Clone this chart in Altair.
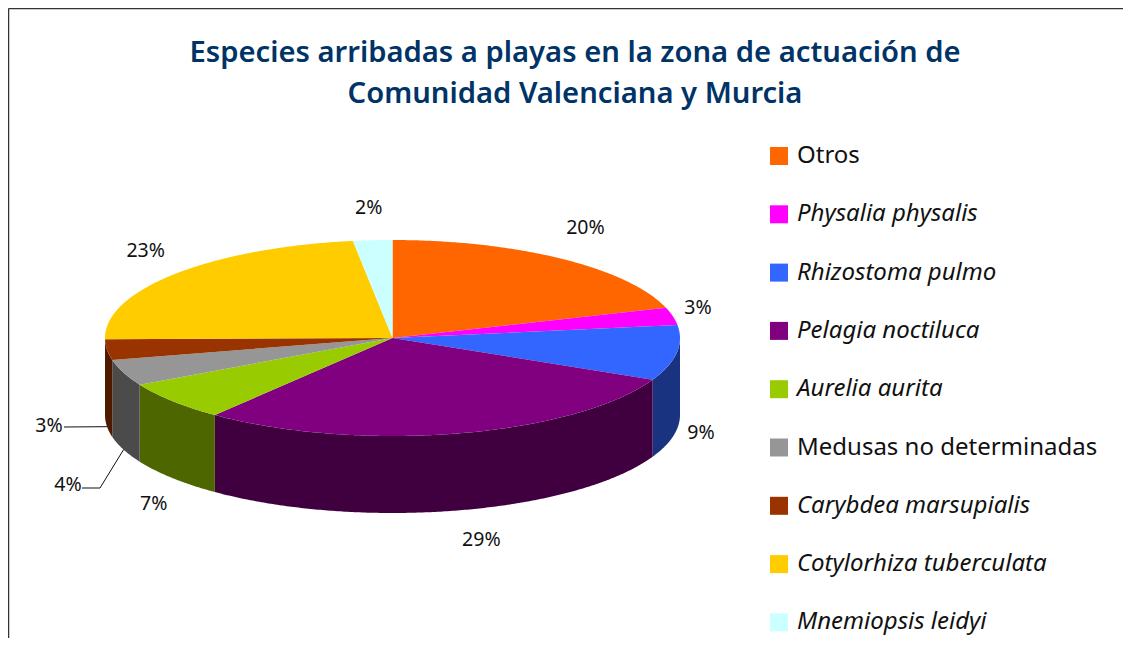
import math
import altair as alt

# ---- data ----
names = ["Otros", "Physalia physalis", "Rhizostoma pulmo", "Pelagia noctiluca", "Aurelia aurita",
         "Medusas no determinadas", "Carybdea marsupialis", "Cotylorhiza tuberculata", "Mnemiopsis leidyi"]
values = [20.0, 2.9, 9.1, 28.6, 6.5, 4.3, 3.4, 23.0, 2.2]
pct_labels = ["20%", "3%", "9%", "29%", "7%", "4%", "3%", "23%", "2%"]
colors = ["#FF6600", "#FF00FF", "#3366FF", "#800080", "#99CC00", "#969696", "#993300", "#FFCC00", "#CCFFFF"]
wall_colors = ["#803300", "#800080", "#1A3380", "#400040", "#4D6600", "#4B4B4B", "#4D1A00", "#806600", "#668080"]
title_lines = ["Especies arribadas a playas en la zona de actuación de", "Comunidad Valenciana y Murcia"]
italic_names = [n for n in names if n not in ("Otros", "Medusas no determinadas")]

# ---- layout of the pseudo-3D pie (picture pixels) ----
W, H = 1115, 630
CX, CY, RX, RY, DEPTH = 392.5, 338.0, 287.5, 98.0, 77.0
FONT = "Noto Sans"
LABEL_KX, LABEL_KY = 1.10, 1.38
nudges = [(7, -1), (-3, 0), (-4, -3), (16, -7), (3, 2), (0, 0), (0, 0), (-7, 1), (-2, 5)]
pulled = {5: (68, 485), 6: (49, 426)}
elbows = {5: [(100, 488), (82, 488)], 6: [(64, 427)]}


def pt(deg, drop=0.0):
    a = math.radians(deg)
    return [CX + RX * math.sin(a), CY - RY * math.cos(a) + drop]


def arc(a, b, drop=0.0):
    n = max(2, int(abs(b - a) * 2))
    return [pt(a + (b - a) * i / n, drop) for i in range(n + 1)]


tops, walls, labels, leaders = [], [], [], []
cum = 0.0
for i, v in enumerate(values):
    a, b = cum * 3.6, (cum + v) * 3.6
    cum += v
    ring = [[CX, CY]] + arc(a, b) + [[CX, CY]]
    tops.append({"type": "Feature", "geometry": {"type": "Polygon", "coordinates": [ring]},
                 "properties": {"name": names[i]}})
    lo, hi = max(a, 90), min(b, 270)
    if hi > lo:
        ring = arc(lo, hi) + arc(hi, lo, DEPTH)
        ring.append(ring[0])
        walls.append((wall_colors[i], {"type": "Feature", "properties": {"name": names[i]},
                                       "geometry": {"type": "Polygon", "coordinates": [ring]}}))
    mid = (a + b) / 2
    r = math.radians(mid)
    drop = DEPTH if math.cos(r) < 0 else 0
    if i in pulled:
        lx, ly = pulled[i]
        anchor = pt(mid, DEPTH)
        pts = [anchor] + [list(p) for p in elbows[i]]
        for k, p in enumerate(pts):
            leaders.append({"x": p[0], "y": p[1], "k": k, "leader": i})
    else:
        lx = CX + LABEL_KX * RX * math.sin(r) + nudges[i][0]
        ly = CY - LABEL_KY * RY * math.cos(r) + drop + nudges[i][1]
    labels.append({"x": lx, "y": ly, "t": pct_labels[i]})

proj = alt.Projection(type="identity", scale=1, translate=[-8, -8])
sx = alt.Scale(domain=[8, 8 + W], range=[0, W])
sy = alt.Scale(domain=[8, 8 + H], range=[0, H])
X = lambda f="x": alt.X(f"{f}:Q", scale=sx, axis=None)
Y = lambda f="y": alt.Y(f"{f}:Q", scale=sy, axis=None)

wall_layers = [
    alt.Chart(alt.Data(values=[f])).mark_geoshape(fill=c, strokeWidth=0).project(**proj.to_dict())
    for c, f in walls
]

italic_expr = "indexof(" + str(italic_names) + ", datum.value) >= 0 ? 'italic' : 'normal'"
top_layer = alt.Chart(alt.Data(values=tops)).mark_geoshape(strokeWidth=0).encode(
    fill=alt.Fill("properties.name:N",
                  scale=alt.Scale(domain=names, range=colors),
                  sort=None,
                  legend=alt.Legend(title=None, orient="none", legendX=759, legendY=136,
                                    symbolType="square", symbolSize=324, symbolStrokeWidth=0,
                                    labelFont=FONT, labelFontSize=24, labelColor="#111111",
                                    labelLimit=400, labelOffset=6, rowPadding=34.3,
                                    labelFontStyle={"expr": italic_expr}))
).project(**proj.to_dict())

label_layer = alt.Chart(alt.Data(values=labels)).mark_text(
    font=FONT, fontSize=19.5, color="#111111", align="center", baseline="middle"
).encode(x=X(), y=Y(), text="t:N")

leader_layer = alt.Chart(alt.Data(values=leaders)).mark_line(color="#111111", strokeWidth=1).encode(
    x=X(), y=Y(), order="k:Q", detail="leader:N")

frame_top = alt.Chart(alt.Data(values=[{"x": 8.5, "x2": 8 + W, "y": 8.5}])).mark_rule(
    color="#333333", strokeWidth=1.5).encode(x=X(), x2="x2:Q", y=Y())
frame_left = alt.Chart(alt.Data(values=[{"x": 8.5, "y": 8.5, "y2": 8 + H}])).mark_rule(
    color="#333333", strokeWidth=1.5).encode(x=X(), y=Y(), y2="y2:Q")

chart = alt.layer(frame_top, frame_left, *wall_layers, top_layer, leader_layer, label_layer).properties(
    width=W, height=H, padding=0, autosize=alt.AutoSizeParams(type="none"),
    title=alt.TitleParams(text=title_lines, anchor="middle", font=FONT, fontSize=29.2, fontWeight=600,
                          color="#003366", lineHeight=41, dy=128, dx=9.5, baseline="alphabetic"),
).configure_view(stroke=None)

chart.save("out.html", embed_options={"renderer": "svg", "actions": False})
